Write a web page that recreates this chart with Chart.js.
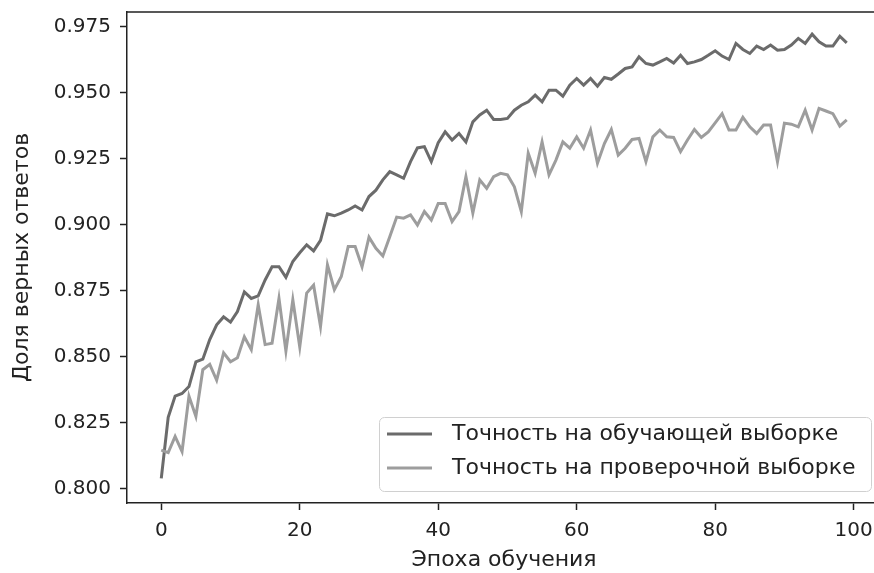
<!DOCTYPE html>
<html>
<head>
<meta charset="utf-8">
<script src="https://cdn.jsdelivr.net/npm/chart.js@4/dist/chart.umd.min.js"></script>
<style>
  html, body { margin: 0; padding: 0; background: #fff; overflow: hidden; }
  #chart { display: block; }
</style>
</head>
<body>
<canvas id="chart" width="890" height="573"></canvas>
<script>
// эпохи обучения 0..99
let epochs = Array.from({ length: 100 }, (_, i) => i);

// точность на обучающей выборке
let trainAcc = [
  0.8038, 0.8270, 0.8350, 0.8360, 0.8386, 0.8480, 0.8490, 0.8564, 0.8620, 0.8650,
  0.8630, 0.8670, 0.8745, 0.8720, 0.8730, 0.8790, 0.8840, 0.8840, 0.8800, 0.8860,
  0.8893, 0.8923, 0.8900, 0.8940, 0.9040, 0.9033, 0.9043, 0.9055, 0.9070, 0.9055,
  0.9106, 0.9130, 0.9169, 0.9200, 0.9188, 0.9175, 0.9238, 0.9290, 0.9295, 0.9238,
  0.9310, 0.9351, 0.9320, 0.9345, 0.9313, 0.9389, 0.9415, 0.9433, 0.9398, 0.9398,
  0.9402, 0.9433, 0.9452, 0.9465, 0.9490, 0.9465, 0.9509, 0.9509, 0.9486, 0.9528,
  0.9553, 0.9528, 0.9553, 0.9524, 0.9557, 0.9550, 0.9570, 0.9591, 0.9597, 0.9635,
  0.9610, 0.9604, 0.9616, 0.9629, 0.9612, 0.9641, 0.9610, 0.9616, 0.9625, 0.9641,
  0.9658, 0.9638, 0.9625, 0.9686, 0.9663, 0.9648, 0.9676, 0.9663, 0.9680, 0.9660,
  0.9663, 0.9680, 0.9705, 0.9686, 0.9721, 0.9692, 0.9676, 0.9676, 0.9713, 0.9688
];

// точность на проверочной выборке
let valAcc = [
  0.8145, 0.8136, 0.8197, 0.8140, 0.8350, 0.8273, 0.8450, 0.8470, 0.8410, 0.8514,
  0.8480, 0.8495, 0.8575, 0.8526, 0.8696, 0.8545, 0.8550, 0.8720, 0.8520, 0.8715,
  0.8536, 0.8740, 0.8770, 0.8614, 0.8847, 0.8753, 0.8803, 0.8917, 0.8917, 0.8840,
  0.8952, 0.8910, 0.8881, 0.8954, 0.9028, 0.9024, 0.9036, 0.8998, 0.9049, 0.9017,
  0.9080, 0.9080, 0.9011, 0.9049, 0.9181, 0.9043, 0.9169, 0.9137, 0.9181, 0.9194,
  0.9188, 0.9143, 0.9049, 0.9270, 0.9194, 0.9313, 0.9188, 0.9244, 0.9313, 0.9289,
  0.9332, 0.9289, 0.9358, 0.9232, 0.9307, 0.9360, 0.9263, 0.9289, 0.9322, 0.9326,
  0.9238, 0.9332, 0.9358, 0.9332, 0.9330, 0.9276, 0.9320, 0.9360, 0.9330, 0.9351,
  0.9385, 0.9420, 0.9358, 0.9358, 0.9406, 0.9370, 0.9345, 0.9377, 0.9377, 0.9238,
  0.9384, 0.9380, 0.9370, 0.9433, 0.9358, 0.9440, 0.9430, 0.9420, 0.9373, 0.9396
];

let xTicks = [0, 20, 40, 60, 80, 100];
let yTicks = [0.800, 0.825, 0.850, 0.875, 0.900, 0.925, 0.950, 0.975];

let seriesNames = ['Точность на обучающей выборке', 'Точность на проверочной выборке'];
let seriesColors = ['#6b6b6b', '#9d9d9d'];

let tickFont = { family: 'DejaVu Sans', size: 20 };
let textFont = { family: 'DejaVu Sans', size: 22 };
let axisColor = '#222';

// верхняя и правая рамка как в matplotlib
let framePlugin = {
  id: 'frame',
  afterDraw(chart) {
    let a = chart.chartArea;
    let c = chart.ctx;
    c.save();
    c.strokeStyle = axisColor;
    c.lineWidth = 1.5;
    c.beginPath();
    c.moveTo(a.left, a.top);
    c.lineTo(a.right, a.top);
    c.lineTo(a.right, a.bottom);
    c.stroke();
    c.restore();
  }
};

// легенда внутри области графика, справа снизу
let legendPlugin = {
  id: 'boxLegend',
  afterDraw(chart) {
    let a = chart.chartArea;
    let c = chart.ctx;
    let w = 492, h = 74;
    let x = a.right - 10 - w;
    let y = a.bottom - 12 - h;
    c.save();
    c.fillStyle = 'rgba(255,255,255,0.8)';
    c.strokeStyle = '#d0d0d0';
    c.lineWidth = 1;
    c.beginPath();
    c.roundRect(x + 0.5, y + 0.5, w, h, 5);
    c.fill();
    c.stroke();
    c.font = textFont.size + 'px ' + textFont.family;
    c.textBaseline = 'middle';
    chart.data.datasets.forEach((ds, i) => {
      let ly = y + 17 + i * 34;
      c.strokeStyle = ds.borderColor;
      c.lineWidth = 3;
      c.beginPath();
      c.moveTo(x + 8, ly);
      c.lineTo(x + 53, ly);
      c.stroke();
      c.fillStyle = '#222';
      c.fillText(ds.label, x + 73, ly);
    });
    c.restore();
  }
};

let ctx = document.getElementById('chart').getContext('2d');
new Chart(ctx, {
  type: 'line',
  data: {
    labels: epochs,
    datasets: [{
      label: seriesNames[0],
      data: trainAcc,
      borderColor: seriesColors[0],
      borderWidth: 3,
      pointRadius: 0,
      tension: 0,
      fill: false,
      order: 1
    }, {
      label: seriesNames[1],
      data: valAcc,
      borderColor: seriesColors[1],
      borderWidth: 3,
      pointRadius: 0,
      tension: 0,
      fill: false,
      order: 0
    }]
  },
  options: {
    responsive: false,
    animation: false,
    layout: { padding: { top: 12, right: 9, left: 0, bottom: 0 } },
    plugins: {
      legend: { display: false },
      tooltip: { enabled: false }
    },
    scales: {
      x: {
        type: 'linear',
        min: -4.95,
        max: 103.95,
        afterBuildTicks: s => { s.ticks = xTicks.map(v => ({ value: v })); },
        afterFit: s => { s.height = 70; s.paddingLeft = 0; s.paddingRight = 0; },
        grid: { display: true, drawOnChartArea: false, tickLength: 7, tickColor: axisColor, tickWidth: 1.5 },
        border: { display: true, color: axisColor, width: 1.5 },
        ticks: { font: tickFont, color: axisColor, padding: 9, maxRotation: 0, autoSkip: false },
        title: { display: true, text: 'Эпоха обучения', font: textFont, color: axisColor, padding: { top: 0, bottom: 0 } }
      },
      y: {
        min: 0.7945,
        max: 0.9805,
        afterBuildTicks: s => { s.ticks = yTicks.map(v => ({ value: v })); },
        afterFit: s => { s.width = 127; s.paddingTop = 0; s.paddingBottom = 0; },
        grid: { display: true, drawOnChartArea: false, tickLength: 7, tickColor: axisColor, tickWidth: 1.5 },
        border: { display: true, color: axisColor, width: 1.5 },
        ticks: { font: tickFont, color: axisColor, padding: 9, autoSkip: false, callback: v => v.toFixed(3) },
        title: { display: true, text: 'Доля верных ответов', font: textFont, color: axisColor, padding: { top: 9, bottom: 0 } }
      }
    }
  },
  plugins: [framePlugin, legendPlugin]
});
</script>
</body>
</html>
